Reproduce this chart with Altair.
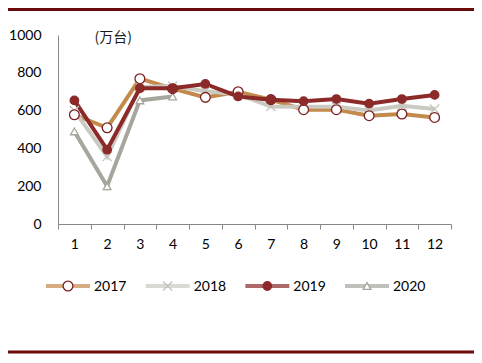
import altair as alt
import pandas as pd

months = list(range(1, 13))
years = ["2017", "2018", "2019", "2020"]
v2017 = [578, 509, 769, 716, 670, 700, 658, 605, 605, 573, 582, 564]
v2018 = [600, 357, 725, 730, 702, 686, 622, 620, 620, 601, 626, 608]
v2019 = [654, 393, 718, 718, 741, 675, 658, 650, 661, 637, 661, 683]
v2020 = [490, 200, 654, 675]

line_colors = ["#C48A4B", "#CACAC2", "#8C2A2A", "#A6A69E"]
fill_colors = ["#FFFFFF", "transparent", "#8C2A2A", "#FFFFFF"]
stroke_colors = ["#7B2020", "#C4C4BC", "#8C2A2A", "#A6A69E"]
shapes = ["circle", "M-1,-1L1,1M-1,1L1,-1", "circle", "triangle-up"]
sizes = [95, 60, 120, 90]
draw_order = {"2020": 0, "2018": 1, "2017": 2, "2019": 3}

rows = []
for y, vals in zip(years, [v2017, v2018, v2019, v2020]):
    for m, v in zip(months, vals):
        rows.append({"year": y, "month": m, "value": v, "order": draw_order[y]})
df = pd.DataFrame(rows)
leg = pd.DataFrame({"year": years})

FONT = "Lato"
color_scale = alt.Scale(domain=years, range=line_colors)
fill_scale = alt.Scale(domain=years, range=fill_colors)
stroke_scale = alt.Scale(domain=years, range=stroke_colors)
shape_scale = alt.Scale(domain=years, range=shapes)
size_scale = alt.Scale(domain=years, range=sizes)

x_vals = sorted([i + 0.5 for i in range(0, 13)] + months)
x_enc = alt.X(
    "month:Q",
    scale=alt.Scale(domain=[0.5, 12.5], nice=False, zero=False),
    axis=alt.Axis(
        values=x_vals, tickCount=100,
        labelExpr="datum.value % 1 === 0 ? '' + datum.value : ''",
        tickColor={"condition": {"test": "datum.value % 1 === 0", "value": "transparent"}, "value": "#888888"},
        labelOverlap=False, labelFlush=False, labelBound=False,
        grid=False, domainColor="#888888", tickSize=5, tickWidth=1,
        labelPadding=8, labelFont=FONT, labelFontSize=14, labelColor="#000000",
        title=None,
    ),
)
y_enc = alt.Y(
    "value:Q",
    scale=alt.Scale(domain=[0, 1000], nice=False),
    axis=alt.Axis(
        values=[0, 200, 400, 600, 800, 1000], tickCount=100, format="d", grid=False, ticks=False,
        labelOverlap=False, labelFlush=False, labelBound=False,
        domainColor="#888888", labelPadding=17, labelFont=FONT, labelFontSize=14,
        labelColor="#000000", title="(万台)", titleAngle=0, titleX=36, titleY=2,
        titleAlign="left", titleBaseline="middle", titleFont="Noto Sans CJK SC",
        titleFontSize=14, titleFontWeight="normal", titleColor="#1a1a1a",
    ),
)

base = alt.Chart(df)
lines = base.mark_line(strokeWidth=4).encode(
    x=x_enc, y=y_enc,
    color=alt.Color("year:N", scale=color_scale, legend=None),
    order="order:Q",
    detail="year:N",
)
points = base.mark_point(filled=False, strokeWidth=1.3, opacity=1).encode(
    x="month:Q", y="value:Q",
    shape=alt.Shape("year:N", scale=shape_scale, legend=None),
    fill=alt.Fill("year:N", scale=fill_scale, legend=None),
    stroke=alt.Stroke("year:N", scale=stroke_scale, legend=None),
    size=alt.Size("year:N", scale=size_scale, legend=None),
    order="order:Q",
)
main = alt.layer(lines, points)

leg_x = alt.X("year:N", scale=alt.Scale(type="point", domain=years, range=[10, 309], padding=0), axis=None)
lbase = alt.Chart(leg)
ltick = lbase.mark_tick(orient="horizontal", size=44, thickness=4).encode(
    x=leg_x, y=alt.value(251),
    color=alt.Color("year:N", scale=color_scale, legend=None),
)
lpt = lbase.mark_point(filled=False, strokeWidth=1.3, opacity=1).encode(
    x=leg_x, y=alt.value(251),
    shape=alt.Shape("year:N", scale=shape_scale, legend=None),
    fill=alt.Fill("year:N", scale=fill_scale, legend=None),
    stroke=alt.Stroke("year:N", scale=stroke_scale, legend=None),
    size=alt.Size("year:N", scale=size_scale, legend=None),
)
ltxt = lbase.mark_text(align="left", baseline="middle", dx=26, font=FONT, fontSize=14, color="#000000").encode(
    x=leg_x, y=alt.value(252), text="year:N",
)
legend = alt.layer(ltick, lpt, ltxt)

border_top = alt.Chart(pd.DataFrame({"a": [0]})).mark_rule(color="#6B0A0A", strokeWidth=3).encode(
    x=alt.value(-50), x2=alt.value(416), y=alt.value(-25.5)
)
border_bot = alt.Chart(pd.DataFrame({"a": [0]})).mark_rule(color="#6B0A0A", strokeWidth=3).encode(
    x=alt.value(-50), x2=alt.value(416), y=alt.value(317)
)

chart = alt.layer(main, legend, border_top, border_bot).resolve_scale(x="independent").properties(
    width=393, height=189,
    autosize=alt.AutoSizeParams(type="none"),
    padding={"left": 50, "top": 27, "right": 23, "bottom": 131},
).configure_view(stroke=None)

chart.save("out.html", embed_options={"renderer": "svg", "actions": False})
